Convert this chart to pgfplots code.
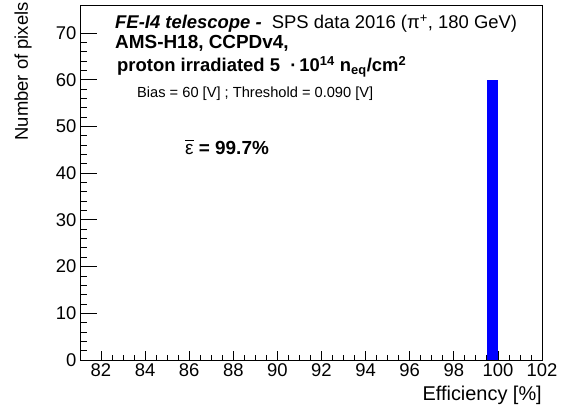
\documentclass[border=0pt]{standalone}
\usepackage{fontspec}
\setmainfont{Liberation Sans}
\usepackage{pgfplots}
\pgfplotsset{compat=1.18}
\newcommand{\epsbar}{\sbox0{ε}\rlap{\usebox0}\raisebox{1.12em}{\rule{\wd0}{0.06em}}}
\begin{document}
\begin{tikzpicture}
\useasboundingbox (-80bp,-50bp) rectangle (484bp,360bp);
\pgfplotsset{
 common/.style={
  at={(0,0)}, anchor=south west,
  scale only axis, width=462bp, height=355bp,
  xmin=81.05, xmax=102, ymin=0, ymax=76,
  axis line style={line width=0.8pt},
  tick align=inside,
  tick style={black, line width=0.8pt},
  /pgf/number format/assume math mode=true,
  ticklabel style={font=\fontsize{18.5}{20}\selectfont},
 }
}
\begin{axis}[common,
  xtick={82,84,...,102}, minor x tick num=3,
  ytick=\empty,
  xtick pos=bottom,
  major tick length=9bp, minor tick length=5bp,
]
\addplot[ybar interval, fill=blue, draw=none] coordinates {(99.5,60) (100,60)};
\end{axis}
\begin{axis}[common,
  xtick=\empty,
  ytick={0,10,...,70}, minor y tick num=4,
  ytick pos=left,
  major tick length=17bp, minor tick length=7bp,
]
\end{axis}
\node[anchor=base west, inner sep=0] at (35bp,331bp) {\fontsize{18.5}{20}\selectfont\bfseries\itshape FE-I4 telescope -\ \ \normalfont SPS data 2016 (π\textsuperscript{+}, 180 GeV)};
\node[anchor=base west, inner sep=0] at (35bp,311bp) {\fontsize{19}{20}\selectfont\bfseries AMS-H18, CCPDv4,};
\node[anchor=base west, inner sep=0] at (37bp,288bp) {\fontsize{18.5}{20}\selectfont\bfseries proton irradiated 5 \ ·\,10\textsuperscript{14} n\textsubscript{eq}/cm\textsuperscript{2}};
\node[anchor=base west, inner sep=0] at (57bp,262bp) {\fontsize{14.7}{16}\selectfont Bias = 60 [V] ; Threshold = 0.090 [V]};
\node[anchor=base west, inner sep=0] at (105bp,205bp) {\fontsize{19}{20}\selectfont \raisebox{0pt}{\fontsize{19}{20}\selectfont\sbox0{ε}\rlap{\usebox0}\raisebox{0.72em}{\rule{\wd0}{0.06em}}} \bfseries = 99.7\%};
\node[rotate=90, anchor=base east, inner sep=0] at (-52bp,358bp) {\fontsize{18.5}{20}\selectfont Number of pixels};
\node[anchor=base east, inner sep=0] at (462bp,-40bp) {\fontsize{20}{22}\selectfont Efficiency [\%]};
\end{tikzpicture}
\end{document}
